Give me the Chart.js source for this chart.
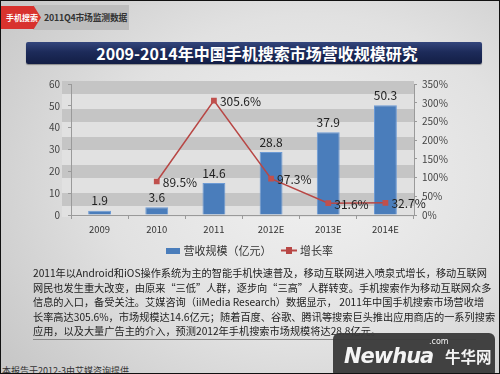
<!DOCTYPE html>
<html><head><meta charset="utf-8">
<script src="https://cdn.jsdelivr.net/npm/chart.js@4/dist/chart.umd.min.js"></script>
<style>
html,body{margin:0;padding:0;}
body{width:500px;height:374px;overflow:hidden;position:relative;font-family:"Noto Sans CJK SC","Noto Sans",sans-serif;
background:radial-gradient(ellipse 75% 80% at 62% 48%, #f1f1f1 0%, #e1e1e1 55%, #c8c8c8 100%);}
#frame{position:absolute;left:0;top:0;width:498px;height:372px;border:1px solid #111;pointer-events:none;z-index:10;}
#tagred{position:absolute;left:1px;top:6px;width:40px;height:23px;background:#d8322e;
clip-path:polygon(0 0,82% 0,100% 50%,82% 100%,0 100%);color:#fff;font-size:8px;line-height:23px;padding-left:5px;box-sizing:border-box;font-weight:bold;z-index:2;white-space:nowrap;}
#taggray{position:absolute;left:33px;top:5px;width:96px;height:25px;background:#bdbdbd;color:#333;font-size:8.8px;line-height:25px;padding-left:11px;box-sizing:border-box;font-weight:bold;white-space:nowrap;letter-spacing:-0.2px;}
#title{position:absolute;left:26px;top:42px;width:456px;height:22px;border-radius:2px;
background:linear-gradient(to bottom,#34467c 0%,#1d2b5a 45%,#131e45 100%);box-shadow:0 1px 1px rgba(0,0,0,.35);
color:#fff;font-weight:bold;font-size:16px;line-height:22px;text-align:center;padding-left:6px;box-sizing:border-box;}
#stripes{position:absolute;left:62px;top:81px;width:352px;height:136px;
background:repeating-linear-gradient(to bottom,#c5c5c5 0px,#c5c5c5 13px,#e1e1e1 13px,#e1e1e1 28px);}
#cwrap{position:absolute;left:0;top:70px;width:500px;height:196px;}
#para{position:absolute;left:33px;top:266px;width:443px;font-size:10.2px;line-height:14.6px;color:#222;border-bottom:1px solid #888;padding-bottom:0px;}
#para div{text-align:justify;text-align-last:justify;white-space:nowrap;}
#para div.last{text-align-last:left;}
#foot{position:absolute;left:2px;top:364px;font-size:9px;color:#333;white-space:nowrap;}
#wm{position:absolute;left:333px;top:333px;width:162px;height:45px;border-radius:6px;background:rgba(58,58,58,.96);z-index:5;color:#f4f4f4;}
#wm .n{position:absolute;left:11px;top:11px;font-family:"DejaVu Sans",sans-serif;font-style:italic;font-weight:bold;font-size:21px;letter-spacing:-1px;line-height:24px;}
#wm .c{position:absolute;left:96px;top:4px;font-size:8px;font-family:"DejaVu Sans",sans-serif;}
#wm .h{position:absolute;left:112px;top:13px;font-size:15.5px;font-weight:bold;line-height:20px;}
</style></head>
<body>
<div id="frame"></div>
<div id="taggray">2011Q4市场监测数据</div>
<div id="tagred">手机搜索</div>
<div id="title">2009-2014年中国手机搜索市场营收规模研究</div>
<div id="stripes"></div>
<div id="cwrap"><canvas id="c" width="500" height="196"></canvas></div>
<div id="para">
<div>2011年以Android和iOS操作系统为主的智能手机快速普及，移动互联网进入喷泉式增长，移动互联网</div>
<div>网民也发生重大改变，由原来“三低”人群，逐步向“三高”人群转变。手机搜索作为移动互联网众多</div>
<div>信息的入口，备受关注。艾媒咨询（iiMedia Research）数据显示， 2011年中国手机搜索市场营收增</div>
<div>长率高达305.6%，市场规模达14.6亿元；随着百度、谷歌、腾讯等搜索巨头推出应用商店的一系列搜索</div>
<div class="last">应用，以及大量广告主的介入，预测2012年手机搜索市场规模将达28.8亿元。</div>
</div>
<div id="foot">本报告于2012-3由艾媒咨询提供</div>
<div id="wm"><span class="n">Newhua</span><span class="c">.com</span><span class="h">牛华网</span></div>
<script>
const categories = ['2009','2010','2011','2012E','2013E','2014E'];
const revenue = [1.9, 3.6, 14.6, 28.8, 37.9, 50.3];
const growth = [null, 89.5, 305.6, 97.3, 31.6, 32.7];
const seriesNames = ['营收规模（亿元）','增长率'];

const BAR = '#4a7dbb', LINE = '#b84745';
const FONT = '"Noto Sans CJK SC","Noto Sans",sans-serif';

function mkIcon(kind){
  const cv=document.createElement('canvas');
  const g=cv.getContext('2d');
  if(kind==='bar'){cv.width=14;cv.height=6;g.fillStyle=BAR;g.fillRect(0,0,14,6);}
  else{cv.width=16;cv.height=7;g.fillStyle=LINE;g.fillRect(0,2.5,16,2);g.fillRect(5,0,6,7);}
  return cv;
}
const icons=[mkIcon('bar'),mkIcon('line')];

const labelPlugin={id:'lbl',afterDatasetsDraw(chart){
  const ctx=chart.ctx;ctx.save();
  ctx.fillStyle='#222';ctx.font='12px '+FONT;
  const m0=chart.getDatasetMeta(0);
  ctx.textAlign='center';ctx.textBaseline='bottom';
  m0.data.forEach((el,i)=>{ctx.fillText(revenue[i].toFixed(1),el.x,el.y-4);});
  const m1=chart.getDatasetMeta(1);
  ctx.textAlign='left';ctx.textBaseline='middle';
  m1.data.forEach((el,i)=>{if(growth[i]!=null)ctx.fillText(growth[i].toFixed(1)+'%',el.x+6,el.y+1);});
  ctx.restore();
}};

new Chart(document.getElementById('c'),{
  data:{labels:categories,datasets:[
    {type:'bar',label:seriesNames[0],data:revenue,backgroundColor:BAR,borderColor:'#6c9ad4',borderWidth:1,
     barPercentage:0.4,categoryPercentage:1,yAxisID:'y',order:2},
    {type:'line',label:seriesNames[1],data:growth,borderColor:LINE,borderWidth:1.5,pointStyle:'rect',pointRadius:3,
     pointBackgroundColor:'#c0504d',pointBorderColor:'#c0504d',yAxisID:'y1',tension:0,order:1,spanGaps:false}
  ]},
  options:{responsive:false,animation:false,
    layout:{padding:{top:11,left:0,right:0,bottom:0}},
    plugins:{tooltip:{enabled:false},
      legend:{position:'bottom',labels:{usePointStyle:true,color:'#333',font:{family:FONT,size:11},padding:12,
        generateLabels(chart){return chart.data.datasets.map((d,i)=>({text:d.label,pointStyle:icons[i],fillStyle:'transparent',strokeStyle:'transparent',lineWidth:0,datasetIndex:i,fontColor:'#333'}));}}}},
    scales:{
      x:{offset:true,grid:{drawOnChartArea:false,drawTicks:true,tickLength:4,color:'#9a9a9a',offset:true},border:{color:'#9a9a9a'},
         ticks:{color:'#333',font:{family:FONT,size:9.5},padding:5},afterFit(s){s.height=18;}},
      y:{position:'left',min:0,max:60,ticks:{stepSize:10,color:'#444',font:{family:FONT,size:10},padding:8},
         grid:{drawOnChartArea:false,tickLength:3,color:'#9a9a9a'},border:{color:'#9a9a9a'},afterFit(s){s.width=71;}},
      y1:{position:'right',min:0,max:350,ticks:{stepSize:50,color:'#444',font:{family:FONT,size:10},padding:5,callback:v=>v+'%'},
         grid:{drawOnChartArea:false,tickLength:3,color:'#9a9a9a'},border:{color:'#9a9a9a'},afterFit(s){s.width=86;}}
    }
  },
  plugins:[labelPlugin]
});
</script>
</body></html>
